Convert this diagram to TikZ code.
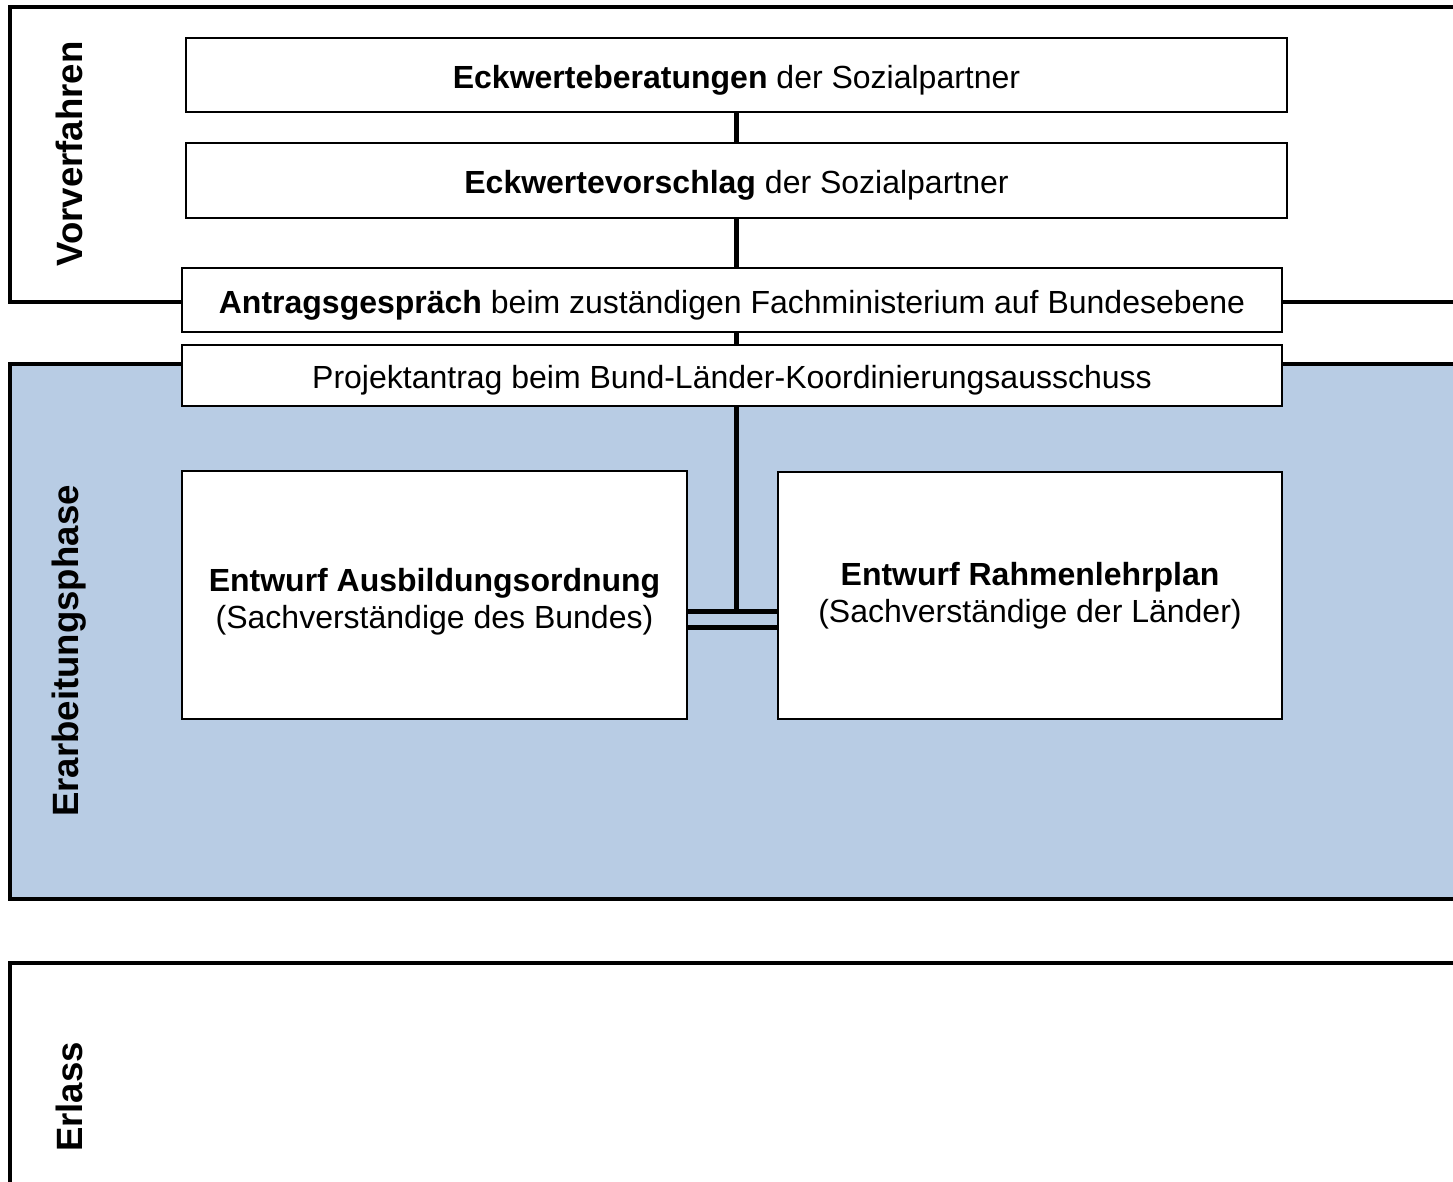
\documentclass[tikz,border=0pt]{standalone}
\usepackage{fontspec}
\setmainfont{Liberation Sans}
\definecolor{phaseblue}{RGB}{184,204,228}
\begin{document}
\begin{tikzpicture}[x=1pt,y=-1pt,
  box/.style={draw=black, line width=1.5pt, fill=white, inner sep=0pt, align=center, font=\fontsize{32}{37}\selectfont},
  onebox/.style={box, text height=26pt, text depth=0pt},
  boxtext/.style={inner sep=0pt, align=center, font=\fontsize{32}{37}\selectfont},
  frameline/.style={line width=4pt},
  conn/.style={line width=5pt},
  phase/.style={rotate=90, font=\bfseries\fontsize{36.6}{40}\selectfont}]
\useasboundingbox (0,0) rectangle (1453,1181);
\clip (0,0) rectangle (1453,1181);
\fill[phaseblue] (10,364) rectangle (1470,899);
\draw[frameline] (1470,7) -- (10,7) -- (10,302) -- (1470,302);
\draw[frameline] (1470,364) -- (10,364) -- (10,899) -- (1470,899);
\draw[frameline] (1470,963) -- (10,963) -- (10,1200);
\node[phase] (p1) at (69,154) {Vorverfahren};
\node[phase] (p2) at (69,651) {Erarbeitungsphase};
\node[phase] (p3) at (69,1097) {Erlass};
\node[onebox, minimum width=1101pt, minimum height=74pt] (b1) at (736.5,75) {\textbf{Eckwerteberatungen} der Sozialpartner};
\node[onebox, minimum width=1101pt, minimum height=75pt] (b2) at (736.5,180.5) {\textbf{Eckwertevorschlag} der Sozialpartner};
\node[onebox, minimum width=1100pt, minimum height=64pt] (b3) at (732,300) {\textbf{Antragsgespräch} beim zuständigen Fachministerium auf Bundesebene};
\node[onebox, minimum width=1100pt, minimum height=61pt] (b4) at (732,375.5) {Projektantrag beim Bund-Länder-Koordinierungsausschuss};
\node[box, minimum width=505pt, minimum height=248pt] (ao) at (434.5,595) {};
\node[boxtext, yshift=-7pt] (aot) at (ao.center) {\textbf{Entwurf Ausbildungsordnung}\\(Sachverständige des Bundes)};
\node[box, minimum width=504pt, minimum height=247pt] (rl) at (1030,595.5) {\textbf{Entwurf Rahmenlehrplan}\\(Sachverständige der Länder)};
\coordinate (j) at (736,611);
\coordinate (j2) at (736,627);
\draw[conn] (b1.south -| j) -- (b2.north -| j);
\draw[conn] (b2.south -| j) -- (b3.north -| j);
\draw[conn] (b3.south -| j) -- (b4.north -| j);
\draw[conn] (b4.south -| j) -- (j);
\draw[conn] (ao.east |- j) -- (rl.west |- j);
\draw[conn] (ao.east |- j2) -- (rl.west |- j2);
\end{tikzpicture}
\end{document}
